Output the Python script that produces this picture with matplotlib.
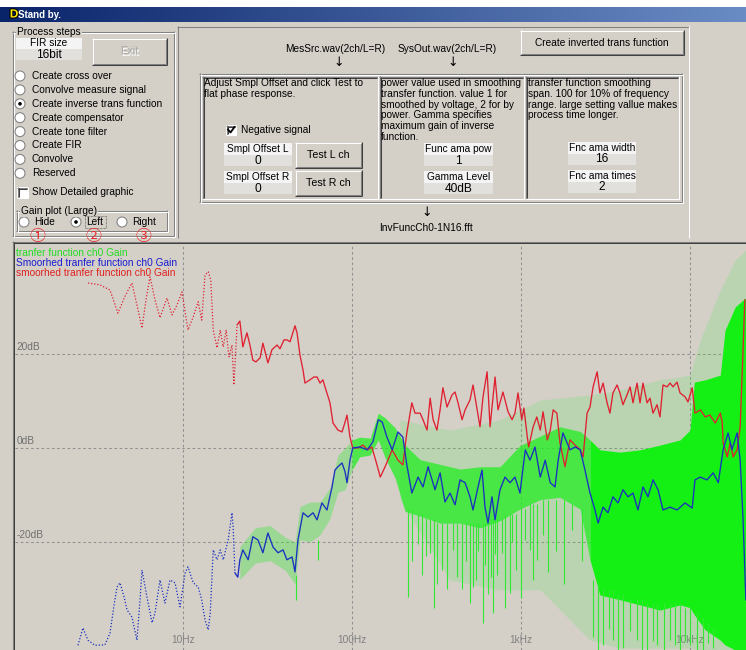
import numpy as np
import matplotlib.pyplot as plt
from matplotlib.patches import Rectangle, Circle
from matplotlib.colors import LinearSegmentedColormap
import matplotlib.patheffects as pe

plt.rcParams['font.family'] = ['Liberation Sans', 'DejaVu Sans']

# smoothed inverse transfer function (red), Hz / dB; sparse bins below ~21 Hz
red_dot_f = [2.74, 3.23, 3.70, 4.12, 4.54, 4.99, 5.34, 5.72, 6.04, 6.38,
             6.83, 7.31, 8.04, 8.61, 9.21, 9.86, 10.7, 11.5, 12.3, 12.9,
             13.5, 14.1, 14.6, 15.1, 15.9, 16.6, 17.3, 18.0, 18.7, 19.5,
             20.0, 20.9]
red_dot_db = [35.1, 34.7, 33.6, 28.7, 32.3, 35.1, 30.4, 25.5, 31.5, 36.4,
              31.5, 27.7, 31.9, 28.3, 30.4, 33.2, 25.1, 27.9, 31.1, 27.2,
              36.8, 37.5, 35.7, 25.1, 21.3, 25.1, 21.5, 25.1, 19.4, 21.9,
              13.4, 26.2]
red_f = [20.9, 21.7, 22.6, 23.9, 24.9, 25.9, 27.0, 28.6, 29.7, 31.8,
         33.6, 36.0, 37.5, 39.6, 41.2, 43.0, 44.8, 46.0, 47.3, 49.2,
         51.3, 52.7, 56.4, 59.6, 62.1, 64.7, 67.3, 69.2, 74.1, 77.2,
         82.6, 87.3, 91.0, 93.4, 97.3, 101, 109, 116, 124, 131,
         139, 147, 157, 173, 187, 200, 211, 226, 236, 253,
         263, 278, 290, 302, 318, 332, 345, 365, 391, 407,
         424, 448, 467, 499, 520, 550, 572, 596, 630, 656,
         702, 731, 782, 838, 885, 921, 960, 1010, 1040, 1090,
         1110, 1180, 1240, 1300, 1350, 1430, 1490, 1550, 1630, 1700,
         1820, 1950, 2090, 2240, 2330, 2460, 2560, 2670, 2820, 2930,
         3060, 3230, 3360, 3500, 3700, 3850, 4010, 4240, 4420, 4600,
         4860, 5060, 5270, 5570, 5800, 6040, 6380, 6640, 6920, 7310,
         7620, 7930, 8380, 8730, 9340, 9730, 10300, 10700, 11500, 12300,
         13100, 14100, 15100, 15500, 15700, 16600, 17300, 18000, 19000, 19800,
         20600, 21100]
red_db = [26.2, 27.0, 21.5, 24.5, 21.9, 18.7, 18.3, 19.2, 22.3, 18.1,
          20.9, 21.9, 21.1, 23.0, 23.0, 22.6, 24.7, 26.0, 24.5, 19.8,
          16.6, 13.8, 14.5, 15.1, 15.1, 13.8, 14.5, 13.0, 9.6, 5.3,
          3.8, 3.4, 5.5, 7.0, 2.3, 0.0, 0.0, 0.6, -0.4, 0.2,
          -3.0, -6.2, -4.0, -0.4, -2.6, -3.6, 3.2, 9.6, 7.4, 7.4,
          6.0, 3.8, 10.6, 6.0, 3.8, 8.1, 12.8, 8.7, 11.3, 11.9,
          9.6, 6.0, 8.1, 10.2, 13.4, 8.1, 4.5, 10.9, 16.2, 4.5,
          15.1, 8.1, 11.9, 7.7, 6.0, 7.4, 11.7, 6.0, 8.5, 2.3,
          0.2, 4.5, 6.6, 3.8, 7.7, 1.7, 3.8, 8.1, 7.4, 1.1,
          -4.0, 1.7, 0.6, -0.4, -1.9, 7.4, 8.7, 13.0, 16.2, 11.7,
          13.8, 9.6, 7.4, 11.7, 13.4, 11.7, 9.2, 11.3, 13.0, 9.6,
          13.8, 9.6, 13.8, 9.6, 10.6, 7.4, 9.2, 6.6, 13.4, 13.0,
          13.8, 13.0, 14.0, 11.7, 10.9, 9.8, 12.8, 7.4, 8.1, 6.6,
          7.0, 5.3, 7.4, 5.5, 1.1, -1.9, 1.1, -1.9, -0.4, 4.5,
          20.9, 31.5]

# smoothed transfer function (blue)
blue_dot_f = [2.39, 2.56, 2.74, 3.01, 3.45, 3.70, 3.91, 4.07, 4.24, 4.48,
              4.67, 4.99, 5.34, 5.57, 5.72, 6.12, 6.56, 6.83, 7.31, 7.82,
              8.38, 8.97, 9.60, 10.3, 10.7, 11.5, 12.3, 12.9, 13.5, 14.1,
              14.5, 15.1, 15.9, 16.6, 17.3, 18.5, 19.5, 19.8, 20.3]
blue_dot_db = [-42.0, -38.3, -40.9, -42.0, -41.9, -39.4, -33.4, -29.6, -28.7, -31.7,
               -34.5, -36.0, -40.9, -32.3, -26.0, -31.7, -37.2, -35.1, -28.1, -33.0,
               -28.1, -28.7, -33.8, -26.6, -25.3, -28.7, -29.6, -32.3, -36.6, -38.7,
               -35.1, -21.7, -23.8, -21.7, -23.8, -19.6, -13.8, -16.8, -26.6]
blue_f = [20.3, 21.1, 21.7, 22.6, 24.3, 25.9, 27.8, 29.7, 31.8, 34.1,
          36.5, 39.1, 41.2, 44.2, 46.0, 47.9, 51.3, 54.9, 58.8, 62.1,
          66.4, 71.1, 76.2, 79.3, 82.6, 87.3, 91.0, 93.4, 97.3, 101,
          111, 123, 133, 143, 151, 161, 173, 187, 200, 211,
          226, 246, 263, 282, 310, 332, 355, 380, 407, 436,
          467, 499, 520, 557, 588, 612, 638, 673, 702, 751,
          804, 861, 921, 986, 1060, 1130, 1210, 1300, 1390, 1490,
          1590, 1660, 1770, 1950, 2090, 2240, 2390, 2560, 2740, 2860,
          3060, 3270, 3500, 3750, 4010, 4300, 4600, 4920, 5270, 5640,
          6040, 6470, 6920, 7620, 8380, 9340, 10300, 10700, 11500, 12600,
          13700, 14700, 15700, 16800, 17700, 19000, 19800, 20600, 21400]
blue_db = [-26.6, -27.5, -23.8, -21.7, -23.8, -18.9, -19.6, -22.3, -18.1, -21.1,
           -22.3, -21.7, -23.8, -23.2, -26.4, -19.6, -13.8, -14.7, -13.8, -15.3,
           -11.7, -13.2, -8.3, -4.7, -4.0, -3.2, -5.1, -7.4, -2.6, 0.0,
           0.2, -0.4, 1.3, 6.0, 5.5, 2.3, -0.4, 3.4, 2.3, -3.6,
           -9.6, -6.2, -8.3, -4.0, -8.9, -5.3, -11.5, -9.6, -12.1, -6.8,
           -7.4, -10.4, -13.2, -8.3, -4.7, -12.6, -16.0, -10.4, -15.3, -8.9,
           -6.2, -7.4, -6.2, -9.6, -0.4, -2.6, 0.2, -6.2, -2.6, -7.4,
           -8.3, -2.6, 3.2, -0.4, 0.2, -0.4, -4.7, -9.6, -13.2, -16.0,
           -12.6, -13.8, -10.4, -11.7, -8.9, -10.4, -9.6, -13.2, -8.3, -10.4,
           -6.8, -8.9, -13.2, -12.6, -13.2, -11.7, -12.8, -6.8, -6.2, -6.8,
           -5.3, -7.4, -0.4, 3.2, -0.4, 3.2, -2.6, -15.3, -32.3]

# raw transfer function (green): dense band, scattered haze and downward spikes
green_f = [21.7, 26.7, 32.7, 40.2, 46.0, 49.2, 56.4, 64.7, 74.1, 82.6,
           91.0, 100, 111, 128, 143, 157, 180, 206, 253, 332,
           436, 572, 751, 986, 1300, 1700, 2240, 2560, 2930, 3850,
           5060, 6640, 8730, 10000, 10600, 12300, 15100, 16100, 18500, 21400]
green_top = [-21.0, -17.0, -16.5, -19.0, -20.0, -12.5, -11.5, -11.5, -8.5, -1.5,
             0.0, 1.7, 2.3, 2.1, 7.4, 6.4, 4.3, 0.6, -2.5, -3.5,
             -4.5, -4.0, -4.0, 0.5, 2.5, 4.5, 3.5, 1.7, -0.4, -0.9,
             -0.4, 0.6, 1.7, 3.8, 14.0, 14.5, 15.5, 25.0, 30.0, 32.0]
green_bot = [-28.0, -24.5, -24.0, -26.0, -29.0, -19.5, -20.0, -18.5, -15.0, -9.4,
             -8.9, -4.7, -1.9, -1.5, 1.7, -2.1, -6.4, -13.5, -14.5, -16.0,
             -16.0, -17.0, -15.5, -13.0, -11.0, -10.5, -13.0, -23.8, -31.3, -32.3,
             -33.4, -34.5, -33.4, -34.0, -35.5, -38.7, -40.9, -41.9, -43.0, -43.0]
haze_f = [192, 380, 751, 1300, 2560, 3850, 6640, 10000, 11500, 15100, 18500, 21400]
haze_top = [6.0, 3.8, 6.0, 10.2, 11.3, 12.3, 14.5, 15.5, 23.0, 33.6, 40.0, 42.1]
haze_bot = [-11.1, -28.1, -30.2, -30.2, -40.9, -42.6, -42.6, -42.6, -43.0, -43.0, -43.0, -43.0]
spike_f = [46.6, 63.0, 215, 228, 245, 260, 275, 290, 305, 320,
           341, 365, 396, 420, 450, 470, 499, 520, 540, 560,
           596, 615, 640, 660, 683, 700, 720, 773, 800, 861,
           890, 930, 1000, 1050, 1130, 1180, 1240, 1350, 1450, 1600,
           1800, 2000, 2300, 2670, 2850, 3060, 3300, 3500, 3750, 4010,
           4400, 4860, 5200, 5570, 6000, 6380, 7000, 7620, 8200, 8730,
           9300, 10000, 11000, 11900, 12800, 13700]
spike_top = [-27.0, -19.6, -13.0, -13.0, -14.0, -14.0, -15.0, -15.0, -15.0, -16.0,
             -16.0, -16.0, -16.0, -16.0, -16.0, -16.0, -16.0, -16.0, -16.0, -16.0,
             -16.0, -16.0, -16.0, -15.0, -15.0, -15.0, -15.0, -15.0, -14.0, -14.0,
             -14.0, -14.0, -13.0, -13.0, -12.0, -12.0, -12.0, -11.0, -11.0, -11.0,
             -11.0, -12.0, -13.0, -28.0, -29.0, -30.0, -30.0, -30.0, -31.0, -31.0,
             -32.0, -32.0, -32.0, -33.0, -33.0, -33.0, -33.0, -33.0, -33.0, -33.0,
             -34.0, -34.0, -35.0, -36.0, -37.0, -38.0]
spike_low = [-32.3, -23.8, -31.7, -24.0, -20.5, -27.0, -23.0, -22.3, -34.0, -29.0,
             -26.0, -30.0, -21.7, -27.5, -30.0, -24.0, -33.0, -29.5, -28.0, -22.0,
             -37.2, -25.0, -31.0, -27.5, -35.1, -22.5, -27.0, -22.3, -34.0, -30.9,
             -20.0, -26.0, -32.0, -19.5, -21.7, -28.0, -23.8, -18.5, -26.5, -22.0,
             -29.0, -17.5, -24.0, -40.2, -43.0, -41.9, -38.5, -40.9, -43.0, -42.6,
             -39.0, -40.9, -43.0, -43.0, -41.0, -41.9, -43.0, -40.9, -42.0, -43.0,
             -41.0, -41.9, -43.0, -43.0, -41.5, -42.6]

grid_db = [20, 0, -20]
grid_hz = [10, 100, 1000, 10000]
hz_labels = ['10Hz', '100Hz', '1kHz', '10kHz']

steps = ['Create cross over', 'Convolve measure signal', 'Create inverse trans function',
         'Create compensator', 'Create tone filter', 'Create FIR', 'Convolve', 'Reserved']
legend = [('tranfer function ch0 Gain', '#22dd22'),
          ('Smoorhed tranfer function ch0 Gain', '#1a1ad0'),
          ('smoorhed tranfer function ch0 Gain', '#e02020')]
panel1 = ['Adjust Smpl Offset and click Test to', 'flat phase response.']
panel2 = ['power value used in smoothing', 'transfer function. value 1 for',
          'smoothed by voltage, 2 for by', 'power. Gamma specifies',
          'maximum gain of inverse', 'function.']
panel3 = ['transfer function smoothing', 'span. 100 for 10% of frequency',
          'range. large setting vallue makes', 'process time longer.']

BG = '#d4d0c8'
W, H = 746, 650
FS = 7.3
VFS = 8.6
LW = 0.75

fig = plt.figure(figsize=(W / 100, H / 100), dpi=100)
fig.patch.set_facecolor(BG)
ui = fig.add_axes([0, 0, 1, 1])
ui.axis('off')


def line(x0, y0, x1, y1, c, z=3):
    ui.plot([x0, x1], [y0, y1], color=c, lw=LW, solid_capstyle='butt', zorder=z)


def box(x0, y0, x1, y1, fc, z=2):
    ui.add_patch(Rectangle((x0, y0), x1 - x0, y1 - y0, facecolor=fc, edgecolor='none', zorder=z))


def raised(x0, y0, x1, y1):
    box(x0, y0, x1, y1, BG)
    line(x0, y0 + .5, x1, y0 + .5, 'white')
    line(x0 + .5, y0, x0 + .5, y1, 'white')
    line(x0, y1 - .5, x1, y1 - .5, '#404040')
    line(x1 - .5, y0, x1 - .5, y1, '#404040')
    line(x0 + 1, y1 - 1.5, x1 - 1, y1 - 1.5, '#808080')
    line(x1 - 1.5, y0 + 1, x1 - 1.5, y1 - 1, '#808080')


def sunken(x0, y0, x1, y1, fc=BG):
    box(x0, y0, x1, y1, fc)
    line(x0, y0 + .5, x1, y0 + .5, '#808080')
    line(x0 + .5, y0, x0 + .5, y1, '#808080')
    line(x0 + 1, y0 + 1.5, x1 - 1, y0 + 1.5, '#404040')
    line(x0 + 1.5, y0 + 1, x0 + 1.5, y1 - 1, '#404040')
    line(x0, y1 - .5, x1, y1 - .5, 'white')
    line(x1 - .5, y0, x1 - .5, y1, 'white')


def etched(x0, y0, x1, y1):
    for d, c in ((0, '#808080'), (1, 'white')):
        line(x0 + d, y0 + .5 + d, x1 - 1 + d, y0 + .5 + d, c)
        line(x0 + .5 + d, y0 + d, x0 + .5 + d, y1 - 1 + d, c)
        line(x0 + d, y1 - 1.5 + d, x1 - 1 + d, y1 - 1.5 + d, c)
        line(x1 - 1.5 + d, y0 + d, x1 - 1.5 + d, y1 - 1 + d, c)


def group(x0, y0, x1, y1, label):
    etched(x0, y0, x1, y1)
    ui.text(x0 + 5, y0 + 1, label, fontsize=FS, va='center', ha='left', zorder=5,
            bbox=dict(boxstyle='square,pad=0.1', fc=BG, ec='none'))


def txt(x, y, s, ha='left', c='black', fs=FS, **kw):
    ui.text(x, y, s, fontsize=fs, va='center', ha=ha, color=c, zorder=6, **kw)


def radio(x, y, label, on=False, gap=12):
    ui.add_patch(Circle((x, y), 5, facecolor='white', edgecolor='#808080', lw=LW, zorder=4))
    if on:
        ui.add_patch(Circle((x, y), 1.8, facecolor='black', edgecolor='none', zorder=5))
    txt(x + gap, y, label)


def labelled_value(x0, y0, x1, label, value):
    box(x0, y0, x1, y0 + 12, '#f4f4f4')
    box(x0, y0 + 12, x1, y0 + 23, '#e2e0dc')
    txt((x0 + x1) / 2, y0 + 6, label, ha='center')
    txt((x0 + x1) / 2, y0 + 17.5, value, ha='center', fs=VFS)


def button(x0, y0, x1, y1, label, c='black', fs=FS):
    raised(x0, y0, x1, y1)
    if c != 'black':
        txt((x0 + x1) / 2 + 1, (y0 + y1) / 2 + 1, label, ha='center', c='white', fs=fs)
    txt((x0 + x1) / 2, (y0 + y1) / 2, label, ha='center', c=c, fs=fs)


# window frame and title bar
box(0, 0, W, 7, 'white')
cm = LinearSegmentedColormap.from_list('title', ['#0a246a', '#6a8cc4'])
ui.imshow(np.linspace(0, 1, 256)[None, :], extent=[0, W, 22, 7], cmap=cm, aspect='auto', zorder=2)
ui.text(14, 14.5, 'D', color='#ffe800', fontsize=8.5, weight='bold', va='center', ha='center',
        zorder=6, path_effects=[pe.withStroke(linewidth=1.5, foreground='black')])
txt(18.5, 14.5, 'Stand by.', c='white', fs=7.0, weight='bold')

# left process panel
group(12, 31, 175, 237, 'Process steps')
labelled_value(16, 37, 82, 'FIR size', '16bit')
button(92, 38, 167, 65, 'Exit', c='#a8a8a8', fs=FS + 0.6)
for i, s in enumerate(steps):
    radio(20, 76 + 13.9 * i, s, on=(i == 2))
sunken(17, 187, 28, 198, 'white')
txt(32, 192, 'Show Detailed graphic')
group(16, 210, 168, 232, 'Gain plot (Large)')
for x, s, on in ((24, 'Hide', False), (76, 'Left', True), (122, 'Right', False)):
    radio(x, 222, s, on, gap=10)
ui.add_patch(Rectangle((85, 216), 21, 12, fill=False, ec='#404040', lw=0.5, ls=(0, (1, 1)), zorder=5))

# right process panel
line(177, 26.5, 689, 26.5, '#808080')
line(177.5, 26, 177.5, 238, '#808080')
line(688.5, 26, 688.5, 238, 'white')
txt(335, 49, 'MesSrc.wav(2ch/L=R)', ha='center')
txt(339, 63, '↓', ha='center', fs=9, family='DejaVu Sans')
txt(447, 49, 'SysOut.wav(2ch/L=R)', ha='center')
txt(453, 63, '↓', ha='center', fs=9, family='DejaVu Sans')
button(520, 30, 684, 55, 'Create inverted trans function')
etched(199, 73, 683, 203)
sunken(202, 76, 378, 199)
sunken(379, 76, 524, 199)
sunken(525, 76, 679, 199)
for lines, x0 in ((panel1, 203.5), (panel2, 381), (panel3, 528)):
    for j, s in enumerate(lines):
        txt(x0, 83 + 10.8 * j, s)
sunken(226, 125, 236, 135, 'white')
ui.plot([228, 230.5, 234.5], [129.5, 132.5, 127], color='black', lw=1.3, zorder=6)
txt(241, 130, 'Negative signal')
labelled_value(224, 143, 292, 'Smpl Offset L', '0')
labelled_value(224, 171, 292, 'Smpl Offset R', '0')
button(295, 142, 362, 168, 'Test L ch', fs=FS + 0.4)
button(295, 170, 362, 196, 'Test R ch', fs=FS + 0.4)
labelled_value(424, 143, 493, 'Func ama pow', '1')
labelled_value(424, 171, 493, 'Gamma Level', '40dB')
labelled_value(568, 142, 636, 'Fnc ama width', '16')
labelled_value(568, 170, 636, 'Fnc ama times', '2')
txt(427, 213, '↓', ha='center', fs=9, family='DejaVu Sans')
txt(426, 228, 'InvFuncCh0-1N16.fft', ha='center')

# sunken border of the gain plot
line(12, 241.5, W, 241.5, '#808080')
line(13, 242.5, W, 242.5, '#404040')
line(12.5, 241, 12.5, H, '#808080')
line(13.5, 242, 13.5, H, '#404040')
ui.set_xlim(0, W)
ui.set_ylim(H, 0)

# gain plot
ax = fig.add_axes([15 / W, 0, (W - 15) / W, (H - 244) / H])
ax.set_facecolor(BG)
ax.set_xscale('log')
ax.set_xlim(1.014, 21440)
ax.set_ylim(-43.0, 43.4)
ax.set_xticks([])
ax.set_yticks([])
ax.minorticks_off()
for sp in ax.spines.values():
    sp.set_visible(False)

for v in grid_db:
    ax.axhline(v, color='#909090', lw=LW, ls=(0, (2.5, 2.5)), zorder=1)
    ax.text(1.03, v + 0.5, f'{v}dB', fontsize=FS, color='#707070', va='bottom', ha='left', zorder=1)
for v, s in zip(grid_hz, hz_labels):
    ax.axvline(v, color='#909090', lw=LW, ls=(0, (2.5, 2.5)), zorder=1)
    ax.text(v, -40.9, s, fontsize=FS, color='#808080', va='center', ha='center', zorder=1)

ax.fill_between(haze_f, haze_bot, haze_top, color='#33e833', alpha=0.16, lw=0, zorder=2)
gf = np.array(green_f)
ax.fill_between(gf, green_bot, green_top, where=gf <= 100, color='#33e833', alpha=0.35, lw=0, zorder=2)
ax.fill_between(gf, green_bot, green_top, where=(gf >= 100) & (gf <= 2560), color='#22ee22',
                alpha=0.75, lw=0, zorder=2)
ax.fill_between(gf, green_bot, green_top, where=gf >= 2560, color='#14f014', alpha=1.0, lw=0, zorder=2)
ax.vlines(spike_f, spike_low, spike_top, color='#33e833', lw=0.8, zorder=2)

ax.plot(red_dot_f, red_dot_db, color='#e02030', lw=0.9, ls=(0, (1, 1.5)), zorder=4)
ax.plot(red_f, red_db, color='#e02030', lw=0.95, zorder=4)
ax.plot(blue_dot_f, blue_dot_db, color='#1a30c0', lw=0.9, ls=(0, (1, 1.5)), zorder=4)
ax.plot(blue_f, blue_db, color='#1a30c0', lw=0.95, zorder=4)

for j, (s, c) in enumerate(legend):
    ax.text(16, 252.5 + 10.5 * j, s, color=c, fontsize=FS, va='center', ha='left',
            transform=ui.transData, zorder=6)

# circled step numbers
for x, s in ((37, '①'), (93, '②'), (143, '③')):
    ax.text(x, 236.5, s, color='#e83030', fontsize=11.5, va='center', ha='center',
            family=['Noto Sans CJK JP', 'DejaVu Sans'], transform=ui.transData,
            zorder=7, clip_on=False)

fig.savefig('out.png', dpi=100, facecolor=BG)
